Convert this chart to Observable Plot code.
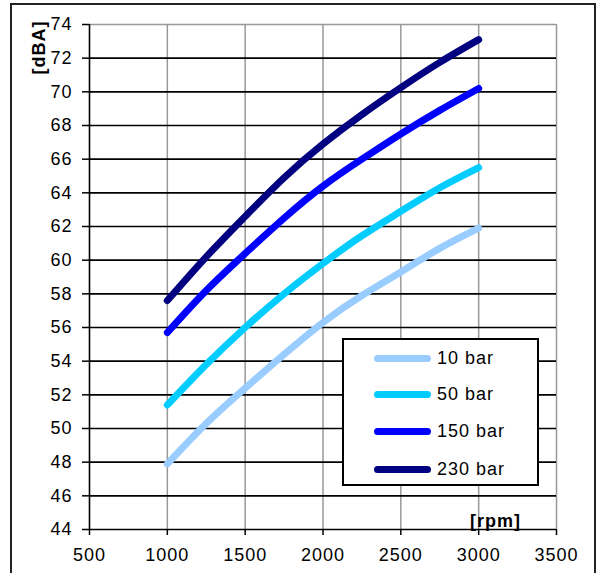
<!DOCTYPE html>
<html><head><meta charset="utf-8">
<script src="https://cdn.jsdelivr.net/npm/d3@7"></script>
<script src="https://cdn.jsdelivr.net/npm/@observablehq/plot@0.6"></script>
<style>
body{margin:0;background:#fff;font-family:"Liberation Sans",Arial,sans-serif;}
#wrap{position:relative;width:597px;height:573px;overflow:hidden;}
#border{position:absolute;left:10px;top:3px;width:586px;height:620px;border:2px solid #222;box-sizing:border-box;pointer-events:none;}
#legend{position:absolute;left:342px;top:338px;width:197px;height:148px;border:2px solid #000;box-sizing:border-box;background:#fff;}
.item{position:absolute;left:30px;height:22px;display:flex;align-items:center;font-size:18px;letter-spacing:1px;color:#000;}
.sw{width:57px;height:7px;border-radius:4px;margin-right:6px;}
svg text{letter-spacing:1px;}
</style></head>
<body><div id="wrap"><div id="chart"></div><div id="legend"></div><div id="border"></div></div>
<script>
const rpm = [1000, 1250, 1500, 1750, 2000, 2250, 2500, 2750, 3000];
const bar10 = [47.9, 50.3, 52.4, 54.4, 56.3, 57.9, 59.3, 60.7, 61.9];
const bar50 = [51.4, 53.8, 56.0, 58.0, 59.8, 61.45, 62.9, 64.3, 65.5];
const bar150 = [55.7, 58.2, 60.4, 62.5, 64.4, 66.0, 67.5, 68.9, 70.2];
const bar230 = [57.6, 60.2, 62.6, 64.9, 66.9, 68.65, 70.25, 71.75, 73.1];
const seriesNames = ["10 bar", "50 bar", "150 bar", "230 bar"];
const seriesColors = ["#99ccff", "#00ccff", "#0000ff", "#000080"];
const xTicks = [500, 1000, 1500, 2000, 2500, 3000, 3500];
const yTicks = [44, 46, 48, 50, 52, 54, 56, 58, 60, 62, 64, 66, 68, 70, 72, 74];
const xTitle = "[rpm]";
const yTitle = "[dBA]";

const values = [bar10, bar50, bar150, bar230];
const data = seriesNames.flatMap((s, i) => rpm.map((r, j) => ({series: s, rpm: r, dba: values[i][j]})));

const chart = Plot.plot({
  width: 597, height: 573,
  marginLeft: 89, marginRight: 41, marginTop: 24, marginBottom: 44,
  x: {domain: [500, 3500]},
  y: {domain: [44, 74]},
  color: {domain: seriesNames, range: seriesColors},
  style: {fontFamily: "'Liberation Sans', Arial, sans-serif", fontSize: "18px", color: "#000", background: "transparent"},
  marks: [
    Plot.ruleX(xTicks.filter(v => v !== 500), {stroke: "#999", strokeWidth: 1.5}),
    Plot.ruleY(yTicks.filter(v => v !== 74 && v !== 44), {stroke: "#000", strokeWidth: 1.6}),
    Plot.ruleY([74], {stroke: "#999", strokeWidth: 1.5}),
    Plot.ruleY([44], {stroke: "#000", strokeWidth: 1.6}),
    Plot.ruleX([500], {stroke: "#000", strokeWidth: 1.6}),
    Plot.axisX({ticks: xTicks, tickSize: 6, tickPadding: 13, tickFormat: d => String(d), fontSize: 18, strokeWidth: 1.5, label: null}),
    Plot.axisY({ticks: yTicks, tickSize: 7, tickPadding: 10, tickFormat: d => String(d), fontSize: 18, strokeWidth: 1.5, label: null}),
    Plot.line(data, {x: "rpm", y: "dba", z: "series", stroke: "series", strokeWidth: 7, strokeLinecap: "round", strokeLinejoin: "round", curve: "natural"}),
    Plot.text([xTitle], {frameAnchor: "bottom-right", dx: -61, dy: -3, textAnchor: "middle", lineAnchor: "bottom", fontWeight: "bold", fontSize: 18}),
    Plot.text([yTitle], {frameAnchor: "top-left", dx: -57, dy: 23, rotate: -90, textAnchor: "middle", fontWeight: "bold", fontSize: 18})
  ]
});
document.getElementById("chart").appendChild(chart);

const legend = document.getElementById("legend");
const itemTops = [7, 43, 80, 118];
seriesNames.forEach((s, i) => {
  const it = document.createElement("div");
  it.className = "item";
  it.style.top = itemTops[i] + "px";
  const sw = document.createElement("div");
  sw.className = "sw";
  sw.style.background = seriesColors[i];
  const tx = document.createElement("span");
  tx.textContent = s;
  it.appendChild(sw); it.appendChild(tx);
  legend.appendChild(it);
});
</script></body></html>
